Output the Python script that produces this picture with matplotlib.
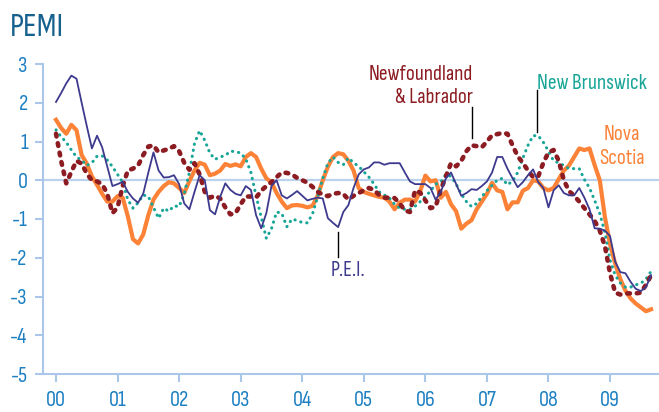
import numpy as np
import matplotlib
matplotlib.use("Agg")
import matplotlib.pyplot as plt

plt.rcParams['font.family'] = ['Sofia Sans Condensed', 'Sofia Sans Semi Condensed', 'DejaVu Sans']

# Monthly PEMI values, Jan 2000 onward
start_year = 2000
pei = [2.02, 2.25, 2.5, 2.7, 2.62, 2.0, 1.4, 0.82, 1.15, 0.85, 0.35, -0.15,
       -0.1, -0.04, -0.3, -0.47, -0.58, -0.35, 0.2, 0.72, 0.25, 0.07, 0.08, 0.13,
       -0.1, -0.6, -0.75, -0.3, 0.13, 0.0, -0.77, -0.88, -0.43, -0.08, -0.25, -0.35,
       -0.39, -0.15, -0.25, -0.9, -1.24, -0.85, -0.15, 0.0, -0.39, -0.47, -0.38, -0.28,
       -0.4, -0.52, -0.48, -0.45, -0.47, -0.98, -1.1, -1.21, -0.82, -0.64, -0.2, 0.15,
       0.28, 0.33, 0.46, 0.46, 0.4, 0.44, 0.44, 0.44, 0.2, -0.03, -0.1, -0.1,
       -0.1, -0.2, -0.5, -0.3, 0.05, 0.2, -0.1, -0.4, -0.33, -0.23, -0.25, -0.15,
       -0.03, 0.2, 0.6, 0.6, 0.3, 0.05, -0.18, -0.05, 0.13, 0.28, -0.05, -0.2,
       -0.7, -0.26, -0.13, -0.33, -0.39, -0.39, -0.2, -0.45, -0.75, -1.24, -1.25, -1.3,
       -1.44, -2.1, -2.37, -2.4, -2.62, -2.8, -2.86, -2.76, -2.45]
nova_scotia = [1.56, 1.35, 1.2, 1.43, 1.29, 0.65, 0.43, 0.1, -0.12, -0.35, -0.55, -0.55,
               -0.41, -0.45, -0.93, -1.52, -1.63, -1.4, -0.9, -0.5, -0.3, -0.15, -0.05, -0.08,
               -0.2, -0.33, -0.02, 0.25, 0.45, 0.4, 0.13, 0.17, 0.25, 0.42, 0.37, 0.41,
               0.36, 0.6, 0.7, 0.6, 0.3, 0.05, -0.05, -0.33, -0.55, -0.72, -0.65, -0.64,
               -0.66, -0.7, -0.66, -0.4, 0.0, 0.35, 0.6, 0.7, 0.67, 0.5, 0.25, -0.2,
               -0.3, -0.35, -0.39, -0.43, -0.45, -0.55, -0.75, -0.58, -0.5, -0.5, -0.55, -0.28,
               0.12, -0.03, 0.0, -0.45, -0.3, -0.62, -0.8, -1.25, -1.12, -1.03, -0.75, -0.55,
               -0.35, -0.07, -0.26, -0.3, -0.75, -0.57, -0.57, -0.27, -0.2, 0.0, -0.03, -0.2,
               -0.26, -0.2, 0.03, 0.25, 0.38, 0.6, 0.82, 0.78, 0.82, 0.39, 0.0, -0.95,
               -1.65, -2.15, -2.55, -2.85, -3.05, -3.18, -3.28, -3.38, -3.33]
newfoundland = [1.2, 0.5, -0.08, 0.22, 0.5, 0.43, 0.17, 0.0, -0.03, -0.1, -0.35, -0.85,
                -0.7, -0.15, 0.25, 0.3, 0.38, 0.65, 0.87, 0.9, 0.72, 0.77, 0.81, 0.88,
                0.75, 0.45, 0.27, 0.44, 0.15, -0.3, -0.45, -0.4, -0.47, -0.7, -0.88, -0.85,
                -0.62, -0.42, -0.42, -0.45, -0.27, -0.15, -0.05, 0.08, 0.2, 0.19, 0.15, 0.06,
                0.0, -0.06, -0.17, -0.3, -0.37, -0.41, -0.35, -0.33, -0.35, -0.5, -0.4, -0.33,
                -0.26, -0.2, -0.25, -0.38, -0.45, -0.45, -0.46, -0.6, -0.78, -0.82, -0.26, -0.32,
                -0.52, -0.72, -0.68, -0.25, 0.1, 0.44, 0.36, 0.5, 0.75, 0.9, 0.88, 0.85,
                1.0, 1.16, 1.19, 1.22, 1.2, 0.9, 0.62, 0.45, 0.25, 0.08, 0.1, 0.45,
                0.72, 0.78, 0.5, 0.0, -0.28, -0.4, -0.55, -0.72, -0.88, -1.05, -1.3, -1.7,
                -2.4, -2.9, -2.95, -2.92, -2.92, -2.92, -2.9, -2.7, -2.45]
new_brunswick = [1.3, 1.12, 0.98, 0.78, 0.6, 0.52, 0.38, 0.45, 0.62, 0.63, 0.52, 0.35,
                 0.15, -0.05, -0.5, -0.72, -0.58, -0.38, -0.42, -0.7, -0.98, -0.72, -0.8, -0.66,
                 -0.68, -0.35, 0.2, 0.95, 1.28, 1.03, 0.7, 0.54, 0.6, 0.64, 0.75, 0.74,
                 0.7, 0.55, 0.2, -0.4, -0.95, -1.5, -1.25, -0.82, -0.85, -1.2, -1.0, -1.04,
                 -1.09, -1.1, -0.87, -0.43, 0.05, 0.44, 0.6, 0.46, 0.4, 0.58, 0.45, 0.36,
                 0.22, 0.08, -0.1, -0.3, -0.38, -0.46, -0.62, -0.72, -0.75, -0.75, -0.67, -0.55,
                 -0.42, -0.28, -0.1, -0.05, 0.15, 0.1, -0.1, -0.35, -0.55, -0.68, -0.6, -0.42,
                 -0.27, -0.13, 0.0, 0.05, -0.12, -0.02, 0.2, 0.57, 0.9, 1.15, 1.15, 0.98,
                 0.75, 0.5, 0.45, 0.38, 0.3, 0.3, 0.3, 0.02, -0.2, -0.52, -0.86, -1.35,
                 -2.06, -2.45, -2.65, -2.76, -2.76, -2.7, -2.66, -2.55, -2.35]

year_ticks = list(range(2000, 2010))
year_labels = ['00', '01', '02', '03', '04', '05', '06', '07', '08', '09']
y_ticks = [3, 2, 1, 0, -1, -2, -3, -4, -5]

def months(series):
    return start_year + np.arange(len(series)) / 12.0

C_NS = '#fb8237'
C_NB = '#16a596'
C_NL = '#8c1c22'
C_PEI = '#3d3a8e'
C_AXIS = '#aac6e8'
C_TICK = '#1c7fc2'

fig = plt.figure(figsize=(6.59, 4.12), dpi=100)
ax = fig.add_axes([43/659, 1-374/412, 616/659, 310/412])

ax.axhline(0, color='#bcd2ec', lw=1.6, zorder=1)

ax.plot(months(nova_scotia), nova_scotia, color=C_NS, lw=3.0, solid_joinstyle='round', zorder=3)
ax.plot(months(new_brunswick), new_brunswick, color=C_NB, lw=2.2,
        linestyle=(0, (0.1, 1.9)), dash_capstyle='round', zorder=4)
ax.plot(months(newfoundland), newfoundland, color=C_NL, lw=3.3,
        linestyle=(0, (0.6, 1.5)), dash_capstyle='round', zorder=5)
ax.plot(months(pei), pei, color=C_PEI, lw=1.3, zorder=6)

ax.set_xlim(2000 - 13/61.56, 2000 + 603/61.56)
ax.set_ylim(-5, 3)

for s in ['top', 'right']:
    ax.spines[s].set_visible(False)
for s in ['left', 'bottom']:
    ax.spines[s].set_color(C_AXIS)
    ax.spines[s].set_linewidth(1.5)

ax.set_xticks(year_ticks)
ax.set_xticklabels(year_labels)
ax.set_yticks(y_ticks)
ax.set_yticklabels([str(v) for v in y_ticks])
ax.tick_params(axis='both', colors=C_AXIS, labelcolor=C_TICK, labelsize=16,
               length=6, width=1.5, direction='out')
ax.tick_params(axis='x', pad=6)
ax.tick_params(axis='y', pad=5)

fig.text(10/659, 1-36/412, 'PEMI', fontsize=24, color='#17618f', va='baseline', ha='left')

LS = 15.5
ax.text(2006.774, 2.60, 'Newfoundland', color=C_NL, fontsize=LS, ha='right', va='baseline')
ax.text(2006.774, 1.995, '& Labrador', color=C_NL, fontsize=LS, ha='right', va='baseline')
ax.plot([2006.753, 2006.753], [1.884, 1.084], color='black', lw=1.0, zorder=7)

ax.text(2007.813, 2.366, 'New Brunswick', color=C_NB, fontsize=LS, ha='left', va='baseline')
ax.plot([2007.813, 2007.813], [2.32, 1.24], color='black', lw=1.0, zorder=7)

ax.text(2009.194, 1.03, 'Nova', color=C_NS, fontsize=LS, ha='center', va='baseline')
ax.text(2009.194, 0.43, 'Scotia', color=C_NS, fontsize=LS, ha='center', va='baseline')

ax.text(2004.467, -2.48, 'P.E.I.', color=C_PEI, fontsize=LS, ha='left', va='baseline')
ax.plot([2004.581, 2004.581], [-1.34, -1.99], color='black', lw=1.0, zorder=7)

fig.savefig('out.png', dpi=100)
